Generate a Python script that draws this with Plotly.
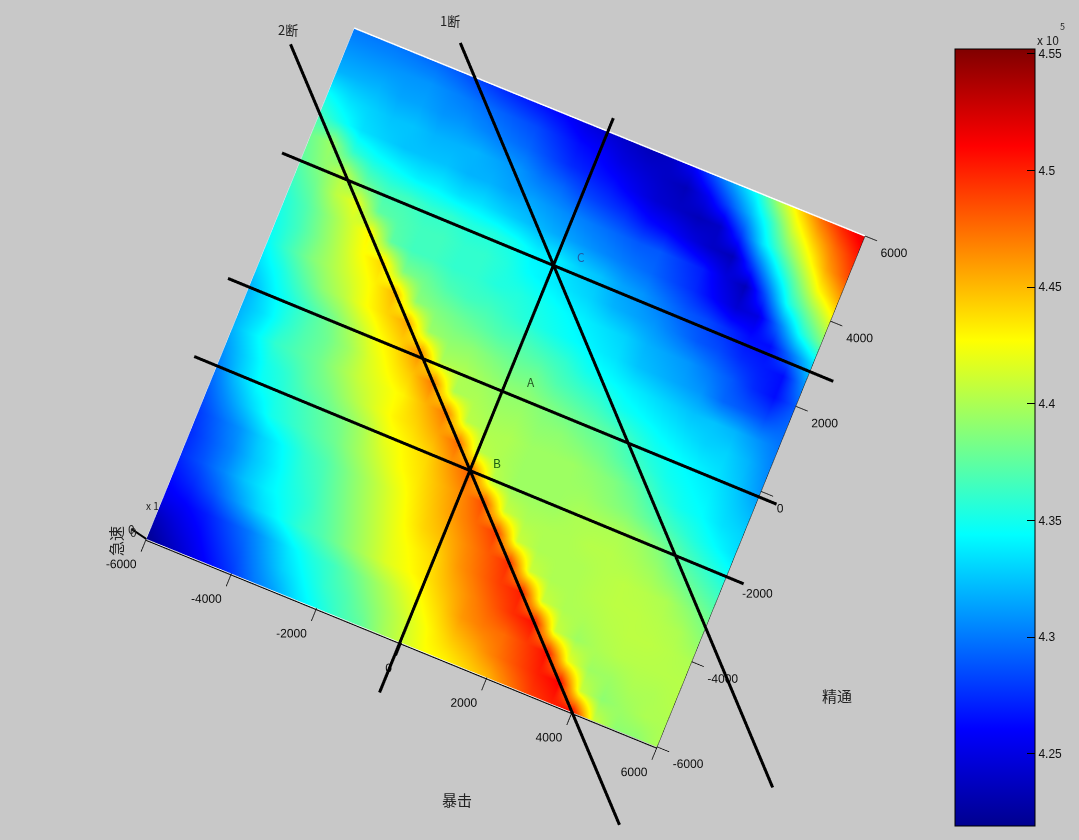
import plotly.graph_objects as go

crit = [-6000,-5500,-5000,-4500,-4000,-3500,-3000,-2500,-2000,-1500,-1000,-500,0,500,1000,1500,2000,2500,3000,3500,4000,4500,5000,5500,6000]
mastery = [6000,5500,5000,4500,4000,3500,3000,2500,2000,1500,1000,500,0,-500,-1000,-1500,-2000,-2500,-3000,-3500,-4000,-4500,-5000,-5500,-6000]
dps = [
 [4.30,4.30,4.30,4.298,4.295,4.29,4.282,4.275,4.27,4.265,4.26,4.25,4.245,4.24,4.235,4.24,4.26,4.29,4.32,4.35,4.40,4.44,4.475,4.50,4.52],
 [4.31,4.31,4.31,4.31,4.31,4.305,4.30,4.295,4.29,4.285,4.275,4.265,4.26,4.25,4.245,4.24,4.235,4.255,4.285,4.32,4.36,4.41,4.445,4.475,4.50],
 [4.32,4.32,4.32,4.315,4.315,4.31,4.31,4.305,4.30,4.295,4.285,4.275,4.27,4.265,4.255,4.245,4.24,4.235,4.24,4.28,4.335,4.375,4.415,4.455,4.485],
 [4.345,4.335,4.33,4.325,4.325,4.32,4.32,4.32,4.315,4.31,4.30,4.295,4.285,4.28,4.275,4.265,4.26,4.25,4.24,4.235,4.285,4.335,4.38,4.425,4.455],
 [4.365,4.35,4.335,4.33,4.325,4.325,4.325,4.32,4.32,4.315,4.315,4.31,4.305,4.30,4.295,4.29,4.29,4.28,4.27,4.25,4.235,4.29,4.35,4.385,4.42],
 [4.38,4.395,4.36,4.35,4.345,4.34,4.34,4.335,4.335,4.33,4.325,4.32,4.315,4.31,4.305,4.30,4.295,4.285,4.275,4.26,4.245,4.25,4.30,4.35,4.385],
 [4.375,4.39,4.405,4.375,4.365,4.365,4.36,4.36,4.355,4.355,4.35,4.34,4.34,4.33,4.325,4.315,4.31,4.30,4.29,4.285,4.275,4.265,4.265,4.30,4.335],
 [4.365,4.38,4.405,4.42,4.375,4.37,4.365,4.365,4.36,4.36,4.355,4.345,4.34,4.335,4.33,4.32,4.315,4.31,4.30,4.29,4.285,4.275,4.27,4.265,4.31],
 [4.355,4.37,4.39,4.41,4.43,4.375,4.365,4.365,4.36,4.36,4.355,4.355,4.35,4.345,4.34,4.335,4.33,4.32,4.315,4.31,4.30,4.29,4.275,4.265,4.29],
 [4.35,4.365,4.385,4.405,4.425,4.44,4.385,4.38,4.37,4.365,4.365,4.36,4.355,4.35,4.345,4.34,4.335,4.325,4.32,4.315,4.31,4.295,4.29,4.285,4.295],
 [4.345,4.365,4.385,4.40,4.415,4.43,4.45,4.39,4.385,4.38,4.375,4.37,4.37,4.365,4.36,4.35,4.345,4.34,4.335,4.33,4.325,4.325,4.32,4.31,4.30],
 [4.335,4.35,4.37,4.39,4.405,4.425,4.44,4.455,4.395,4.39,4.39,4.385,4.38,4.38,4.37,4.365,4.36,4.35,4.345,4.34,4.335,4.33,4.33,4.32,4.305],
 [4.32,4.34,4.355,4.37,4.385,4.405,4.425,4.44,4.465,4.40,4.40,4.395,4.39,4.39,4.385,4.38,4.375,4.37,4.36,4.35,4.345,4.34,4.335,4.325,4.31],
 [4.32,4.335,4.355,4.37,4.38,4.395,4.415,4.43,4.445,4.47,4.40,4.40,4.395,4.395,4.39,4.39,4.385,4.38,4.37,4.36,4.35,4.345,4.34,4.33,4.32],
 [4.32,4.34,4.36,4.37,4.38,4.395,4.41,4.42,4.43,4.45,4.47,4.405,4.40,4.40,4.395,4.395,4.395,4.39,4.385,4.375,4.36,4.35,4.345,4.335,4.33],
 [4.31,4.33,4.35,4.36,4.375,4.385,4.40,4.415,4.43,4.44,4.455,4.475,4.405,4.40,4.395,4.395,4.395,4.395,4.39,4.385,4.375,4.365,4.355,4.345,4.335],
 [4.30,4.325,4.345,4.355,4.365,4.375,4.385,4.40,4.42,4.43,4.44,4.46,4.48,4.405,4.395,4.395,4.395,4.40,4.40,4.40,4.395,4.385,4.37,4.36,4.35],
 [4.29,4.31,4.33,4.35,4.36,4.37,4.38,4.395,4.41,4.425,4.435,4.45,4.465,4.485,4.41,4.40,4.40,4.40,4.403,4.403,4.40,4.395,4.385,4.375,4.365],
 [4.28,4.295,4.31,4.33,4.345,4.36,4.37,4.385,4.40,4.415,4.43,4.445,4.46,4.475,4.49,4.41,4.40,4.40,4.40,4.403,4.405,4.403,4.40,4.39,4.38],
 [4.275,4.29,4.305,4.325,4.34,4.355,4.365,4.38,4.395,4.41,4.425,4.44,4.45,4.465,4.48,4.495,4.41,4.40,4.40,4.403,4.405,4.405,4.403,4.40,4.39],
 [4.275,4.288,4.305,4.325,4.34,4.35,4.36,4.375,4.39,4.405,4.42,4.43,4.44,4.46,4.475,4.49,4.50,4.41,4.40,4.40,4.403,4.405,4.405,4.403,4.40],
 [4.265,4.275,4.29,4.31,4.33,4.345,4.36,4.37,4.385,4.40,4.415,4.425,4.435,4.45,4.465,4.48,4.495,4.505,4.41,4.395,4.40,4.403,4.403,4.403,4.403],
 [4.255,4.26,4.27,4.285,4.30,4.32,4.34,4.355,4.365,4.38,4.395,4.41,4.425,4.44,4.46,4.47,4.475,4.49,4.505,4.42,4.395,4.395,4.40,4.40,4.403],
 [4.235,4.248,4.26,4.275,4.29,4.31,4.33,4.345,4.36,4.37,4.385,4.40,4.415,4.43,4.445,4.455,4.47,4.485,4.50,4.51,4.41,4.39,4.395,4.40,4.40],
 [4.22,4.235,4.25,4.265,4.28,4.30,4.315,4.335,4.35,4.365,4.375,4.395,4.41,4.425,4.43,4.44,4.45,4.47,4.49,4.50,4.51,4.41,4.39,4.39,4.40],
]
floor = [[0]*len(crit) for _ in mastery]

line_x = [[-3740,8660],[-7150,5880],[-6430,6550],[-6490,6415],[-6530,6405],[-40,-40]]
line_y = [[6570,-5870],[5150,-7880],[2890,2810],[-80,-130],[-1930,-2005],[-7180,6310]]

jet = [[0,"rgb(0,0,143)"],[0.125,"rgb(0,0,255)"],[0.375,"rgb(0,255,255)"],
       [0.625,"rgb(255,255,0)"],[0.875,"rgb(255,0,0)"],[1,"rgb(128,0,0)"]]
cb_ticks = [4.25,4.3,4.35,4.4,4.45,4.5,4.55]
cb_text = ["4.25","4.3","4.35","4.4","4.45","4.5","4.55"]
axis_ticks = [-6000,-4000,-2000,0,2000,4000,6000]
axis_text = [str(v) for v in axis_ticks]

W,H = 1079,840
TF = dict(family="Liberation Sans",size=12,color="#111")
fig = go.Figure()
fig.add_trace(go.Surface(x=crit,y=mastery,z=floor,surfacecolor=dps,colorscale=jet,cmin=4.219,cmax=4.552,
    lighting=dict(ambient=1,diffuse=0,specular=0,fresnel=0,roughness=1),
    hoverinfo="skip",
    colorbar=dict(x=955/W,xanchor="left",y=1-826/H,yanchor="bottom",len=777/H,lenmode="fraction",
        thickness=80,thicknessmode="pixels",tickvals=cb_ticks,ticktext=cb_text,ticks="inside",ticklen=8,
        tickcolor="#000",outlinecolor="#000",outlinewidth=1,tickfont=TF,xpad=0,ypad=0)))

def seg(xs,ys,color,width,z=1):
    fig.add_trace(go.Scatter3d(x=xs,y=ys,z=[z]*len(xs),mode="lines",line=dict(color=color,width=width),
                               showlegend=False,hoverinfo="skip"))
# box edges
seg([-6000,6000],[6000,6000],"#fff",3)
seg([-6000,-6000],[-6000,6000],"#dfe9f5",1)
seg([-6000,6000],[-6030,-6030],"#000",2)
seg([-6000,4000],[-6005,-6005],"#fff",1)
seg([6000,6000],[-6000,6000],"#222",1)
# ticks
for v in axis_ticks:
    seg([v,v],[-6000,-6300],"#000",1.5)
    seg([6000,6280],[v,v],"#000",1.5)
seg([-6000,-6385],[-6000,-5920],"#000",4)
# black lines
for lx,ly in zip(line_x,line_y):
    seg(lx,ly,"#000",6,z=2)
# tick labels
fig.add_trace(go.Scatter3d(x=[v+240 for v in axis_ticks],y=[-6487]*7,z=[1]*7,mode="text",text=axis_text,
    textposition="middle left",textfont=TF,showlegend=False,hoverinfo="skip"))
fig.add_trace(go.Scatter3d(x=[6220]*7,y=[v-303 for v in axis_ticks],z=[1]*7,mode="text",text=axis_text,
    textposition="middle right",textfont=TF,showlegend=False,hoverinfo="skip"))

hidden = dict(visible=False,range=[-9000,9000])
cx,cy = 0.1038,-0.0414
fig.update_layout(width=W,height=H,margin=dict(l=0,r=0,t=0,b=0,autoexpand=False),paper_bgcolor="#c8c8c8",showlegend=False,
    scene=dict(domain=dict(x=[0,1],y=[0,1]),
        xaxis=hidden,yaxis=hidden,zaxis=dict(visible=False,range=[-1,3]),
        aspectmode="manual",aspectratio=dict(x=1.97,y=1.97,z=0.01),
        camera=dict(eye=dict(x=cx,y=cy,z=1.5),up=dict(x=-0.3768,y=0.9257,z=0),center=dict(x=cx,y=cy,z=0),
                    projection=dict(type="orthographic"))))
notes = [("2断",288,30,13,0,"#222"),("1断",450,20,13,0,"#222"),("A",531,382,12,0,"#235a23"),("B",497,462,12,0,"#1a5c12"),("C",581,256,12,0,"#1f5fa8"),
         ("暴击",457,799,15,0,"#222"),("精通",837,695,15,0,"#222"),("急速",115,541,15,-90,"#222"),("x 10",1048,39,12,0,"#222"),("5",1062,27,9,0,"#222"),
         ("x 1",152,505,10,0,"#222"),("0",131,528,12,0,"#222"),("0",133,531,12,0,"#222")]
for t,x,y,s,a,c in notes:
    fig.add_annotation(x=x/W,y=1-y/H,xref="paper",yref="paper",xanchor="center",yanchor="middle",text=t,showarrow=False,textangle=a,
        font=dict(family="Noto Sans CJK SC",size=s,color=c))
fig.write_html("out.html",config=dict(displayModeBar=False),post_script="document.body.style.margin='0';document.body.style.background='#c8c8c8';")
